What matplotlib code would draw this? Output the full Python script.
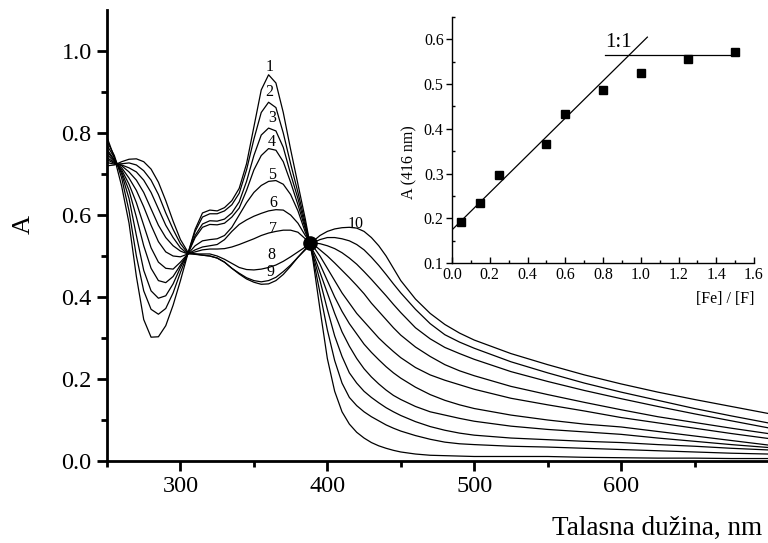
import matplotlib
matplotlib.use("Agg")
import matplotlib.pyplot as plt

plt.rcParams['font.family'] = ['Liberation Serif', 'DejaVu Serif']

# ---------------- main spectra ----------------
wavelength = ([250, 255, 260, 265, 270, 275, 280, 285, 290, 295, 300,
               305, 310, 315, 320, 325, 330, 335, 340, 345, 350, 355, 360,
               365, 370, 375, 380, 385, 390,
               395, 400, 405, 410, 415, 420, 425, 430, 435, 440, 445, 450,
               460, 470, 480, 490, 500,
               525, 550, 575, 600, 625, 650, 675, 700])

curve1 = [0.79, 0.74, 0.67, 0.58, 0.45, 0.345, 0.302, 0.303, 0.33, 0.38, 0.44,
          0.505, 0.565, 0.605, 0.612, 0.61, 0.618, 0.635, 0.665, 0.725, 0.815, 0.905, 0.942,
          0.922, 0.85, 0.76, 0.675, 0.59, 0.495,
          0.37, 0.25, 0.17, 0.12, 0.09, 0.07, 0.056, 0.045, 0.037, 0.031, 0.026, 0.022,
          0.017, 0.014, 0.013, 0.012, 0.011,
          0.011, 0.011, 0.009, 0.008, 0.007, 0.007, 0.006, 0.006]
curve2 = [0.78, 0.745, 0.69, 0.61, 0.50, 0.415, 0.37, 0.358, 0.372, 0.41, 0.46,
          0.505, 0.56, 0.595, 0.603, 0.603, 0.61, 0.625, 0.653, 0.71, 0.785, 0.85, 0.875,
          0.862, 0.80, 0.725, 0.655, 0.58, 0.50,
          0.41, 0.32, 0.245, 0.19, 0.155, 0.135, 0.12, 0.108, 0.098, 0.088, 0.08, 0.073,
          0.062, 0.053, 0.046, 0.042, 0.04,
          0.036, 0.034, 0.031, 0.028, 0.025, 0.022, 0.019, 0.017]
curve3 = [0.77, 0.74, 0.70, 0.64, 0.55, 0.465, 0.415, 0.397, 0.403, 0.432, 0.472,
          0.505, 0.55, 0.578, 0.586, 0.585, 0.59, 0.605, 0.632, 0.682, 0.745, 0.795, 0.812,
          0.805, 0.765, 0.70, 0.64, 0.572, 0.505,
          0.44, 0.37, 0.305, 0.255, 0.215, 0.19, 0.17, 0.155, 0.142, 0.13, 0.12, 0.111,
          0.096, 0.084, 0.075, 0.068, 0.063,
          0.056, 0.052, 0.048, 0.045, 0.04, 0.036, 0.031, 0.027]
curve4 = [0.76, 0.735, 0.705, 0.66, 0.595, 0.525, 0.47, 0.44, 0.435, 0.45, 0.478,
          0.505, 0.545, 0.57, 0.577, 0.576, 0.58, 0.595, 0.617, 0.66, 0.71, 0.745, 0.762,
          0.758, 0.73, 0.68, 0.625, 0.566, 0.51,
          0.46, 0.41, 0.36, 0.315, 0.28, 0.25, 0.225, 0.205, 0.188, 0.173, 0.16, 0.15,
          0.133, 0.12, 0.112, 0.104, 0.097,
          0.085, 0.077, 0.071, 0.065, 0.056, 0.048, 0.04, 0.033]
curve5 = [0.755, 0.733, 0.71, 0.675, 0.63, 0.575, 0.52, 0.485, 0.47, 0.468, 0.485,
          0.505, 0.525, 0.537, 0.54, 0.542, 0.55, 0.57, 0.60, 0.63, 0.655, 0.672, 0.682,
          0.684, 0.675, 0.65, 0.61, 0.558, 0.515,
          0.48, 0.44, 0.40, 0.365, 0.335, 0.31, 0.285, 0.265, 0.247, 0.23, 0.215, 0.202,
          0.18, 0.162, 0.148, 0.137, 0.128,
          0.112, 0.1, 0.09, 0.083, 0.072, 0.061, 0.05, 0.039]
curve6 = [0.748, 0.73, 0.715, 0.69, 0.66, 0.62, 0.575, 0.535, 0.51, 0.50, 0.498,
          0.505, 0.515, 0.522, 0.525, 0.528, 0.54, 0.56, 0.577, 0.588, 0.597, 0.604, 0.61,
          0.613, 0.612, 0.60, 0.58, 0.55, 0.525,
          0.50, 0.47, 0.44, 0.41, 0.385, 0.36, 0.34, 0.32, 0.30, 0.283, 0.267, 0.252,
          0.228, 0.21, 0.197, 0.186, 0.175,
          0.153, 0.137, 0.122, 0.106, 0.093, 0.08, 0.067, 0.055]
curve7 = [0.74, 0.728, 0.72, 0.705, 0.685, 0.655, 0.615, 0.575, 0.545, 0.525, 0.512,
          0.505, 0.51, 0.515, 0.517, 0.517, 0.518, 0.522, 0.528, 0.535, 0.542, 0.55, 0.556,
          0.56, 0.563, 0.563, 0.558, 0.542, 0.53,
          0.515, 0.50, 0.483, 0.465, 0.447, 0.428, 0.408, 0.385, 0.365, 0.345, 0.325, 0.307,
          0.278, 0.255, 0.235, 0.22, 0.208,
          0.182, 0.162, 0.143, 0.125, 0.108, 0.094, 0.08, 0.067]
curve8 = [0.735, 0.726, 0.722, 0.715, 0.705, 0.685, 0.655, 0.615, 0.575, 0.545, 0.52,
          0.505, 0.505, 0.505, 0.505, 0.50, 0.492, 0.482, 0.472, 0.467, 0.466, 0.468, 0.472,
          0.478, 0.487, 0.498, 0.51, 0.522, 0.532,
          0.53, 0.525, 0.518, 0.508, 0.495, 0.48, 0.462, 0.443, 0.423, 0.403, 0.382, 0.362,
          0.325, 0.298, 0.277, 0.262, 0.248,
          0.218, 0.194, 0.172, 0.152, 0.133, 0.115, 0.098, 0.081]
curve9 = [0.728, 0.724, 0.725, 0.727, 0.722, 0.708, 0.685, 0.65, 0.605, 0.565, 0.53,
          0.507, 0.504, 0.502, 0.50, 0.495, 0.485, 0.47, 0.458, 0.447, 0.44, 0.437, 0.44,
          0.448, 0.462, 0.478, 0.497, 0.515, 0.532,
          0.54, 0.545, 0.545, 0.542, 0.537, 0.528, 0.515, 0.497, 0.477, 0.455, 0.432, 0.41,
          0.37, 0.335, 0.308, 0.29, 0.275,
          0.242, 0.215, 0.19, 0.168, 0.148, 0.128, 0.11, 0.093]
curve10 = [0.72, 0.722, 0.73, 0.736, 0.737, 0.73, 0.712, 0.68, 0.635, 0.585, 0.54,
           0.51, 0.505, 0.502, 0.50, 0.495, 0.485, 0.47, 0.456, 0.444, 0.436, 0.431, 0.432,
           0.44, 0.455, 0.475, 0.497, 0.517, 0.535,
           0.55, 0.56, 0.566, 0.569, 0.57, 0.568, 0.56, 0.545, 0.525, 0.50, 0.47, 0.44,
           0.395, 0.36, 0.333, 0.312, 0.295,
           0.262, 0.235, 0.21, 0.188, 0.168, 0.15, 0.133, 0.116]

curves = [curve1, curve2, curve3, curve4, curve5,
          curve6, curve7, curve8, curve9, curve10]
curve_labels = ['1', '2', '3', '4', '5', '6', '7', '8', '9', '10']
label_x = [360.6, 360.6, 362.2, 362.2, 362.2, 363.3, 363.3, 362.2, 361.0, 419.0]
label_y = [0.962, 0.901, 0.836, 0.779, 0.698, 0.629, 0.567, 0.503, 0.460, 0.579]

isosbestic_x = [388.5]
isosbestic_y = [0.532]

main_xticks = [300, 400, 500, 600]
main_xminor = [250, 350, 450, 550, 650]
main_yticks = [0.0, 0.2, 0.4, 0.6, 0.8, 1.0]
main_yminor = [0.1, 0.3, 0.5, 0.7, 0.9]

# ---------------- inset ----------------
ratio = [0.05, 0.15, 0.25, 0.5, 0.6, 0.8, 1.0, 1.25, 1.5]
abs416 = [0.191, 0.235, 0.296, 0.365, 0.433, 0.487, 0.524, 0.555, 0.572]
fit_x = [0.0, 1.035]
fit_y = [0.174, 0.605]
plateau_x = [0.81, 1.487]
plateau_y = [0.565, 0.565]
inset_xticks = [0.0, 0.2, 0.4, 0.6, 0.8, 1.0, 1.2, 1.4, 1.6]
inset_yticks = [0.1, 0.2, 0.3, 0.4, 0.5, 0.6]

fig = plt.figure(figsize=(7.68, 5.43), dpi=100)

ax = fig.add_axes([107 / 768, 1 - 461 / 543, 661 / 768, 451 / 543])
for c in curves:
    ax.plot(wavelength, c, color='black', lw=0.9, solid_joinstyle='round')
ax.plot(isosbestic_x, isosbestic_y, 'o', color='black', ms=9.5)
for t, lx, ly in zip(curve_labels, label_x, label_y):
    ax.text(lx, ly, t, fontsize=11.5, ha='center', va='center')

ax.set_xlim(250, 700)
ax.set_ylim(0, 1.1)
ax.set_xticks(main_xticks)
ax.set_xticks(main_xminor, minor=True)
ax.set_yticks(main_yticks)
ax.set_yticks(main_yminor, minor=True)
ax.set_yticklabels([f'{v:.1f}' for v in main_yticks])
ax.tick_params(which='major', direction='out', length=7, width=2, labelsize=17.5, pad=4)
ax.tick_params(which='minor', direction='out', length=4, width=2)
for s in ['top', 'right']:
    ax.spines[s].set_visible(False)
for s in ['left', 'bottom']:
    ax.spines[s].set_linewidth(2)

fig.text(24 / 768, 1 - 225 / 543, 'A', rotation=90, ha='center', va='center', fontsize=19)
fig.text(762 / 768, 1 - 535 / 543, 'Talasna dužina, nm', ha='right', va='baseline', fontsize=19.5)

# inset axes
axi = fig.add_axes([452 / 768, 1 - 263 / 543, 302 / 768, 246 / 543])
axi.plot(fit_x, fit_y, color='black', lw=0.9)
axi.plot(plateau_x, plateau_y, color='black', lw=0.9)
axi.plot(ratio, abs416, 's', color='black', ms=6)
axi.text(0.81, 0.582, '1:1', fontsize=15, ha='left', va='baseline')
axi.set_xlim(0, 1.6)
axi.set_ylim(0.1, 0.65)
axi.set_xticks(inset_xticks)
axi.set_xticks([0.1, 0.3, 0.5, 0.7, 0.9, 1.1, 1.3, 1.5], minor=True)
axi.set_yticks(inset_yticks)
axi.set_yticks([0.15, 0.25, 0.35, 0.45, 0.55, 0.65], minor=True)
axi.set_xticklabels([f'{v:.1f}' for v in inset_xticks])
axi.set_yticklabels([f'{v:.1f}' for v in inset_yticks])
axi.tick_params(axis='x', which='major', direction='in', length=4, width=1, labelsize=11.5, pad=3)
axi.tick_params(axis='x', which='minor', direction='in', length=2.5, width=1)
axi.tick_params(axis='y', which='major', direction='out', length=4, width=1, labelsize=11.5, pad=2)
axi.tick_params(axis='y', which='minor', direction='in', length=2.5, width=1)
for s in ['top', 'right']:
    axi.spines[s].set_visible(False)
for s in ['left', 'bottom']:
    axi.spines[s].set_linewidth(1)
axi.patch.set_alpha(0)
axi.text(-0.142, 0.41, 'A (416 nm)', rotation=90, ha='center', va='center',
         fontsize=11.5, transform=axi.transAxes)
axi.text(1.0, -0.115, '[Fe] / [F]', ha='right', va='top', fontsize=11.5,
         transform=axi.transAxes)

fig.savefig('out.png', dpi=100)
